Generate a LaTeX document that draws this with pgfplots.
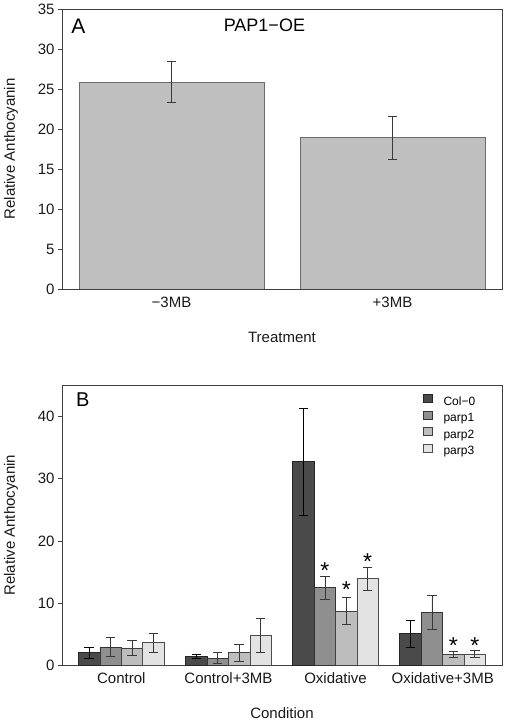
\documentclass[border=0pt]{standalone}
\usepackage{fontspec}
\setmainfont{Liberation Sans}
\usepackage{pgfplots}
\pgfplotsset{compat=1.18}
\usepackage{pgfplotstable}

\definecolor{axisgray}{HTML}{404040}
\definecolor{barA}{HTML}{BFBFBF}
\definecolor{edgeA}{HTML}{6A6A6A}
\definecolor{colzero}{HTML}{4A4A4A}
\definecolor{parpone}{HTML}{8F8F8F}
\definecolor{parptwo}{HTML}{BDBDBD}
\definecolor{parpthree}{HTML}{E3E3E3}
\definecolor{errgray}{HTML}{383838}

\pgfplotstableread{
x y e
0 25.85 2.55
1 18.9 2.65
}\topdata

% x = condition index + bar offset
\pgfplotstableread{
x y e
-0.3 2.0 0.85
0.7 1.4 0.35
1.7 32.8 8.64
2.7 5.1 2.18
}\colzerodata
\pgfplotstableread{
x y e
-0.1 2.9 1.5
0.9 1.08 0.88
1.9 12.5 1.86
2.9 8.5 2.7
}\parponedata
\pgfplotstableread{
x y e
0.1 2.75 1.25
1.1 2.0 1.35
2.1 8.7 2.15
3.1 1.67 0.48
}\parptwodata
\pgfplotstableread{
x y e
0.3 3.6 1.5
1.3 4.8 2.7
2.3 13.9 1.9
3.3 1.78 0.6
}\parpthreedata
\pgfplotstableread{
x y
1.9 15.2
2.1 12.2
2.3 16.7
3.1 3.1
3.3 3.1
}\stardata

\pgfplotsset{
  common/.style={
    scale only axis,
    width=440pt,
    axis line style={draw=axisgray, line width=0.7pt},
    ymin=0,
    xtick style={draw=none},
    ytick style={draw=axisgray, line width=0.7pt},
    tick align=outside,
    major tick length=4pt,
    ytick pos=left,
    /pgf/number format/assume math mode=true,
    ticklabel style={font=\fontsize{15}{18}\selectfont, text=black!90},
    label style={font=\fontsize{15}{18}\selectfont, text=black!90},
    error bars/error bar style={draw=errgray, line width=0.7pt},
    error bars/error mark options={rotate=90, mark size=4.7pt, line width=0.7pt, draw=errgray},
  },
}

\begin{document}
\begin{tikzpicture}
\useasboundingbox (0,0) rectangle (507pt,723pt);

% Panel A
\begin{axis}[common,
  at={(62pt,434pt)}, anchor=south west,
  height=280pt,
  xmin=-0.4955, xmax=1.4955,
  ymax=35, ytick={0,5,...,35},
  xtick={0,1},
  xticklabels={−3MB,+3MB},
  xlabel={Treatment},
  ylabel={Relative Anthocyanin},
  x label style={at={(axis description cs:0.5,-0.1714)}, anchor=center},
  y label style={at={(axis description cs:-0.1159,0.5)}, anchor=center, rotate=0},
]
\addplot[ybar, bar width=0.837, bar shift=0, fill=barA, draw=edgeA, line width=0.7pt,
  error bars/.cd, y dir=both, y explicit]
  table[x=x, y=y, y error=e] {\topdata};
\node[font=\fontsize{21}{24}\selectfont] at (axis description cs:0.0375,0.940) {A};
\node[font=\fontsize{18}{21}\selectfont] at (axis description cs:0.460,0.940) {PAP1−OE};
\end{axis}

% Panel B
\begin{axis}[common,
  at={(62pt,58pt)}, anchor=south west,
  height=279.3pt,
  xmin=-0.5535, xmax=3.5535,
  ymax=45, ytick={0,10,...,40},
  xtick={0,1,2,3},
  xticklabels={Control,Control+3MB,Oxidative,Oxidative+3MB},
  xlabel={Condition},
  ylabel={Relative Anthocyanin},
  x label style={at={(axis description cs:0.5,-0.1708)}, anchor=center},
  y label style={at={(axis description cs:-0.1159,0.5)}, anchor=center, rotate=0},
  legend cell align=left,
  legend style={at={(axis description cs:0.8205,0.970)}, anchor=north west,
    draw=none, fill=none, inner sep=0pt, row sep=2pt,
    font=\fontsize{12}{14}\selectfont,
    nodes={inner sep=1pt, text height=9pt, text depth=2.5pt}},
  legend image code/.code={\draw[#1, line width=0.6pt] (0pt,-0.5pt) rectangle (8.5pt,7.5pt); \path[draw=none, fill=none] (0pt,0pt) -- (19pt,0pt);},
]
\addplot[ybar, bar width=0.2, bar shift=0, fill=colzero, draw=black!85, line width=0.7pt,
  error bars/.cd, y dir=both, y explicit,
  error bar style={draw=black}, error mark options={rotate=90, mark size=4.7pt, draw=black}]
  table[x=x, y=y, y error=e] {\colzerodata};
\addlegendentry{Col−0}
\addplot[ybar, bar width=0.2, bar shift=0, fill=parpone, draw=black!80, line width=0.7pt,
  error bars/.cd, y dir=both, y explicit]
  table[x=x, y=y, y error=e] {\parponedata};
\addlegendentry{parp1}
\addplot[ybar, bar width=0.2, bar shift=0, fill=parptwo, draw=black!75, line width=0.7pt,
  error bars/.cd, y dir=both, y explicit]
  table[x=x, y=y, y error=e] {\parptwodata};
\addlegendentry{parp2}
\addplot[ybar, bar width=0.2, bar shift=0, fill=parpthree, draw=black!70, line width=0.7pt,
  error bars/.cd, y dir=both, y explicit]
  table[x=x, y=y, y error=e] {\parpthreedata};
\addlegendentry{parp3}
\addplot[only marks, mark=text, text mark={\fontsize{23}{25}\selectfont *}, mark options={black}, forget plot]
  table[x=x, y=y] {\stardata};
\node[font=\fontsize{20}{24}\selectfont] at (axis description cs:0.047,0.951) {B};
\end{axis}
\end{tikzpicture}
\end{document}
